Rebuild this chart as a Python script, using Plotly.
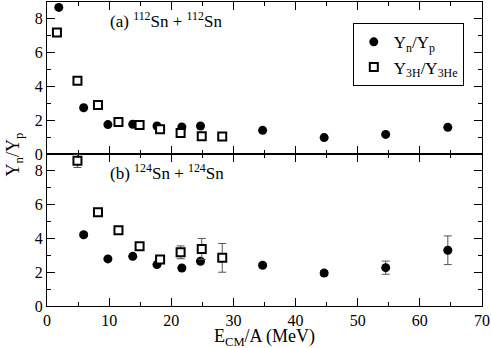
import plotly.graph_objects as go
from plotly.subplots import make_subplots

# (a) 112Sn + 112Sn
e_np_112 = [1.9, 5.9, 9.8, 13.8, 17.7, 21.7, 24.7, 34.7, 44.6, 54.5, 64.5]
r_np_112 = [8.68, 2.74, 1.74, 1.76, 1.66, 1.60, 1.66, 1.40, 0.97, 1.16, 1.58]
e_th_112 = [1.6, 4.9, 8.2, 11.5, 14.9, 18.2, 21.5, 24.9, 28.2]
r_th_112 = [7.2, 4.34, 2.9, 1.89, 1.72, 1.46, 1.24, 1.05, 1.03]

# (b) 124Sn + 124Sn
e_np_124 = [5.9, 9.8, 13.8, 17.7, 21.7, 24.7, 34.7, 44.6, 54.5, 64.5]
r_np_124 = [4.22, 2.79, 2.94, 2.45, 2.25, 2.65, 2.41, 1.95, 2.27, 3.30]
err_np_124 = [0.1, 0, 0, 0, 0, 0, 0.1, 0.15, 0.39, 0.85]
e_th_124 = [4.9, 8.2, 11.5, 14.9, 18.2, 21.5, 24.9, 28.2]
r_th_124 = [8.6, 5.55, 4.48, 3.54, 2.75, 3.18, 3.38, 2.85]
err_th_124 = [0.4, 0, 0, 0, 0, 0.38, 0.62, 0.85]

font_family = "Liberation Serif"

fig = make_subplots(rows=2, cols=1, shared_xaxes=True, vertical_spacing=0)

circle = dict(symbol="circle", size=9, color="black")
square = dict(symbol="square", size=8, color="white", line=dict(color="black", width=2))
errs = dict(type="data", color="#555555", thickness=1, width=4)

fig.add_trace(go.Scatter(x=e_np_112, y=r_np_112, mode="markers", marker=circle,
                         name="Y<sub>n</sub>/Y<sub>p</sub>"), row=1, col=1)
fig.add_trace(go.Scatter(x=e_th_112, y=r_th_112, mode="markers", marker=square,
                         name="Y<sub>3H</sub>/Y<sub>3He</sub>"), row=1, col=1)
fig.add_trace(go.Scatter(x=e_np_124, y=r_np_124, mode="markers", marker=circle,
                         error_y=dict(array=err_np_124, **errs), showlegend=False), row=2, col=1)
fig.add_trace(go.Scatter(x=e_th_124, y=r_th_124, mode="markers", marker=square,
                         error_y=dict(array=err_th_124, **errs), showlegend=False), row=2, col=1)

axis_style = dict(showline=True, linecolor="black", linewidth=1, mirror="allticks",
                  ticks="inside", ticklen=8, tickcolor="black", showgrid=False, zeroline=False,
                  tickfont=dict(family=font_family, size=16, color="black"))

fig.update_xaxes(range=[0, 70], dtick=10, minor=dict(dtick=5, ticks="inside", ticklen=4, tickcolor="black"),
                 **axis_style)
fig.update_yaxes(range=[0, 9], dtick=2, minor=dict(dtick=1, ticks="inside", ticklen=4, tickcolor="black"),
                 **axis_style)
fig.update_xaxes(ticklabeloverflow="allow", row=2, col=1)

fig.add_annotation(text="(a) <sup>112</sup>Sn + <sup>112</sup>Sn", xref="x", yref="y",
                   x=9.8, y=7.95, xanchor="left", showarrow=False,
                   font=dict(family=font_family, size=17, color="black"))
fig.add_annotation(text="(b) <sup>124</sup>Sn + <sup>124</sup>Sn", xref="x2", yref="y2",
                   x=9.8, y=7.95, xanchor="left", showarrow=False,
                   font=dict(family=font_family, size=17, color="black"))
# axis titles as paper annotations
fig.add_annotation(text="Y<sub>n</sub>/Y<sub>p</sub>", xref="paper", yref="paper",
                   x=-0.075, y=0.5, xanchor="center", yanchor="middle", textangle=-90, showarrow=False,
                   font=dict(family=font_family, size=18, color="black"))
fig.add_annotation(text="E<sub>CM</sub>/A (MeV)", xref="paper", yref="paper",
                   x=0.5, y=-0.06, xanchor="center", yanchor="top", showarrow=False,
                   font=dict(family=font_family, size=18, color="black"))

fig.update_layout(
    width=491, height=348,
    margin=dict(l=47, r=9, t=2, b=42, autoexpand=False),
    plot_bgcolor="white", paper_bgcolor="white",
    font=dict(family=font_family, size=17, color="black"),
    legend=dict(x=0.703, y=0.93, xanchor="left", yanchor="top",
                bordercolor="black", borderwidth=1, bgcolor="white",
                font=dict(family=font_family, size=17), itemwidth=30),
)

fig.write_html("out.html", config={"displayModeBar": False},
               post_script="document.body.style.margin='0';")
